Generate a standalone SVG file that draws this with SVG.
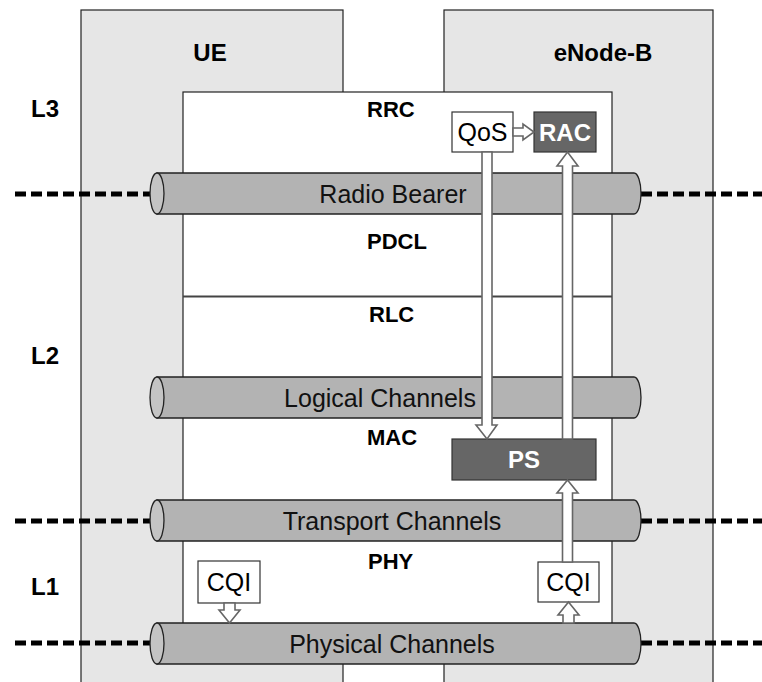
<svg xmlns="http://www.w3.org/2000/svg" width="762" height="682" viewBox="0 0 762 682">
  <style>
    .col { fill: #e6e6e6; stroke: #222; stroke-width: 1.2; }
    .layer { font-family: "Liberation Sans", Arial, sans-serif; font-weight: bold; font-size: 24px; fill: #000; text-anchor: middle; }
    .stk { font-family: "Liberation Sans", Arial, sans-serif; font-weight: bold; font-size: 22px; fill: #000; }
    .chan { font-family: "Liberation Sans", Arial, sans-serif; font-size: 25px; fill: #111; text-anchor: middle; }
    .body { fill: #b3b3b3; stroke: #222; stroke-width: 1.3; }
    .cap { fill: #c4c4c4; stroke: #222; stroke-width: 1.3; }
    .dash { stroke: #000; stroke-width: 5; stroke-dasharray: 11 5; fill: none; }
    .box { fill: #fff; stroke: #333; stroke-width: 1.2; }
    .dark { fill: #666; stroke: #333; stroke-width: 1.2; }
    .lbl { font-family: "Liberation Sans", Arial, sans-serif; font-size: 25px; fill: #000; text-anchor: middle; }
    .wlbl { font-family: "Liberation Sans", Arial, sans-serif; font-weight: bold; font-size: 24px; fill: #fff; text-anchor: middle; }
    .harrow { fill: #fff; stroke: #666; stroke-width: 1.6; stroke-linejoin: miter; }
  </style>
  <rect width="762" height="682" fill="#fff"/>

  <!-- entity columns -->
  <g id="ue">
    <rect class="col" x="81" y="10" width="262" height="680"/>
    <text class="layer" x="210" y="61">UE</text>
  </g>
  <g id="enodeb">
    <rect class="col" x="444" y="10" width="269" height="680"/>
    <text class="layer" x="603" y="61">eNode-B</text>
  </g>

  <!-- protocol stack -->
  <g id="stack">
    <rect x="183" y="92" width="429" height="540" fill="#fff" stroke="#222" stroke-width="1.2"/>
    <line x1="183" y1="296.5" x2="612" y2="296.5" stroke="#444" stroke-width="2"/>
    <text class="stk" x="367" y="117">RRC</text>
    <text class="stk" x="367" y="249">PDCL</text>
    <text class="stk" x="369" y="322">RLC</text>
    <text class="stk" x="367" y="445">MAC</text>
    <text class="stk" x="368" y="569">PHY</text>
  </g>

  <!-- layer labels -->
  <g id="levels">
    <text class="layer" x="45" y="117">L3</text>
    <text class="layer" x="45" y="364">L2</text>
    <text class="layer" x="45" y="595">L1</text>
  </g>

  <!-- channel pipes -->
  <g id="radio-bearer">
    <line class="dash" x1="15" y1="194" x2="150" y2="194"/>
    <line class="dash" x1="641" y1="194" x2="762" y2="194"/>
    <path class="body" d="M157,173 H634 A7,20.5 0 0 1 634,214 H157 Z"/>
    <ellipse class="cap" cx="157" cy="193.5" rx="7" ry="20.5"/>
    <text class="chan" x="393" y="203">Radio Bearer</text>
  </g>
  <g id="logical-channels">
    <path class="body" d="M157,377 H634 A7,20.5 0 0 1 634,418 H157 Z"/>
    <ellipse class="cap" cx="157" cy="397.5" rx="7" ry="20.5"/>
    <text class="chan" x="380" y="407">Logical Channels</text>
  </g>
  <g id="transport-channels">
    <line class="dash" x1="15" y1="521" x2="150" y2="521"/>
    <line class="dash" x1="641" y1="521" x2="762" y2="521"/>
    <path class="body" d="M157,500 H634 A7,20.5 0 0 1 634,541 H157 Z"/>
    <ellipse class="cap" cx="157" cy="520.5" rx="7" ry="20.5"/>
    <text class="chan" x="392" y="530">Transport Channels</text>
  </g>
  <g id="physical-channels">
    <line class="dash" x1="15" y1="643" x2="150" y2="643"/>
    <line class="dash" x1="641" y1="643" x2="762" y2="643"/>
    <path class="body" d="M157,623 H634 A7,20.5 0 0 1 634,664 H157 Z"/>
    <ellipse class="cap" cx="157" cy="643.5" rx="7" ry="20.5"/>
    <text class="chan" x="392" y="653">Physical Channels</text>
  </g>

  <!-- functional blocks -->
  <g id="qos">
    <rect class="box" x="452" y="112" width="61" height="40"/>
    <text class="lbl" x="482.5" y="141">QoS</text>
  </g>
  <g id="rac">
    <rect class="dark" x="534" y="112" width="62" height="40"/>
    <text class="wlbl" x="565" y="141">RAC</text>
  </g>
  <g id="ps">
    <rect class="dark" x="452" y="439" width="144" height="41"/>
    <text class="wlbl" x="524" y="468">PS</text>
  </g>
  <g id="cqi-ue">
    <rect class="box" x="198" y="561" width="62" height="42"/>
    <text class="lbl" x="229" y="591">CQI</text>
  </g>
  <g id="cqi-enb">
    <rect class="box" x="538" y="562" width="61" height="40"/>
    <text class="lbl" x="568.5" y="591">CQI</text>
  </g>

  <!-- hollow block arrows -->
  <g id="connectors">
    <!-- QoS to RAC -->
    <path class="harrow" d="M513,128 H523 V124 L534,132 L523,140 V136 H513 Z"/>
    <!-- QoS down to PS -->
    <path class="harrow" d="M482,152 V425 H476 L487,439 L497,425 H492 V152 Z"/>
    <!-- PS up to RAC -->
    <path class="harrow" d="M562.5,439 V166 H557 L567.5,152 L578,166 H572.5 V439 Z"/>
    <!-- eNB CQI up to PS -->
    <path class="harrow" d="M562.5,562 V493 H557 L567.5,480 L578,493 H572.5 V562 Z"/>
    <!-- physical channel up to eNB CQI -->
    <path class="harrow" d="M563,623 V615 H558 L568.5,602 L579,615 H574 V623 Z"/>
    <!-- UE CQI down to physical channel -->
    <path class="harrow" d="M224,603 V610 H219 L229.5,623 L240,610 H235 V603 Z"/>
  </g>
</svg>
